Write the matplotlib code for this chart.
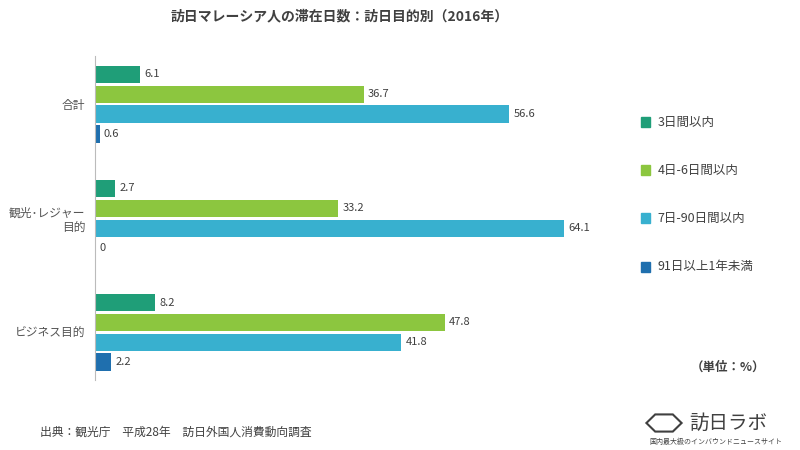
import matplotlib.pyplot as plt
from matplotlib import rcParams
from matplotlib.patches import Rectangle, RegularPolygon

rcParams['font.family'] = ['Noto Sans CJK JP']

categories = ['合計', '観光･レジャー\n目的', 'ビジネス目的']
series_names = ['3日間以内', '4日-6日間以内', '7日-90日間以内', '91日以上1年未満']
values = [
    [6.1, 2.7, 8.2],
    [36.7, 33.2, 47.8],
    [56.6, 64.1, 41.8],
    [0.6, 0.0, 2.2],
]
colors = ['#1f9e78', '#8cc63f', '#38b0cf', '#1f6fae']

fig = plt.figure(figsize=(8, 4.5), dpi=100)
ax = fig.add_axes([0.119, 0.155, 0.64, 0.72])

pitch = 0.174
height = 0.152
for i, (name, vals) in enumerate(zip(series_names, values)):
    for g, v in enumerate(vals):
        y = g + (i - 1.5) * pitch
        ax.barh(y, v, height=height, color=colors[i])
        ax.text(v + 0.6, y, f'{v:g}', va='center', ha='left', fontsize=8, color='#404040')

ax.set_xlim(0, 70)
ax.set_ylim(2.42, -0.42)
ax.set_yticks(range(len(categories)))
ax.set_yticklabels(categories, fontsize=8.5, color='#555555')
ax.tick_params(axis='y', length=0, pad=7)
ax.set_xticks([])
for s in ['top', 'right', 'bottom']:
    ax.spines[s].set_visible(False)
ax.spines['left'].set_color('#bbbbbb')

fig.text(0.425, 0.963, '訪日マレーシア人の滞在日数：訪日目的別（2016年）', ha='center', va='center',
         fontsize=10, fontweight='bold', color='#404040')

legend_y = [0.728, 0.622, 0.515, 0.407]
for name, c, ly in zip(series_names, colors, legend_y):
    fig.patches.append(Rectangle((0.801, ly - 0.011), 0.011, 0.022, transform=fig.transFigure,
                                 color=c, figure=fig))
    fig.text(0.822, ly, name, va='center', ha='left', fontsize=9, color='#404040')

fig.text(0.91, 0.184, '（単位：%）', ha='center', va='center', fontsize=9, fontweight='bold', color='#404040')
fig.text(0.05, 0.04, '出典：観光庁　平成28年　訪日外国人消費動向調査', ha='left', va='center',
         fontsize=8.5, color='#404040')
fig.patches.append(RegularPolygon((0.83, 0.06), 6, radius=0.022, orientation=0.5236,
                                  transform=fig.transFigure, fill=False, edgecolor='#404040',
                                  linewidth=1.5, figure=fig))
fig.text(0.91, 0.06, '訪日ラボ', ha='center', va='center', fontsize=14, color='#404040')
fig.text(0.895, 0.017, '国内最大級のインバウンドニュースサイト', ha='center', va='center', fontsize=5, color='#404040')

fig.savefig('out.png')
